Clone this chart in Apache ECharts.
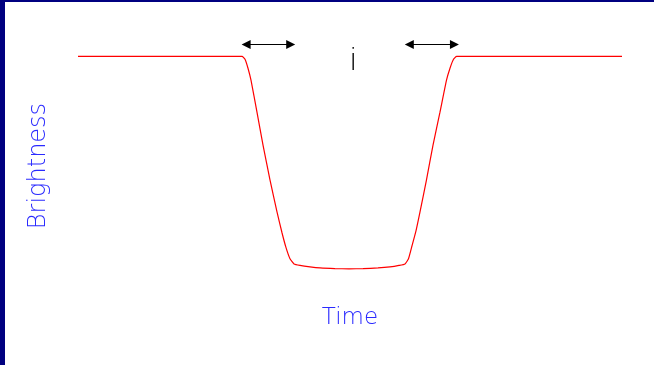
<!DOCTYPE html>
<html>
<head>
<meta charset="utf-8">
<script src="https://cdn.jsdelivr.net/npm/echarts@6/dist/echarts.min.js"></script>
<style>
  html, body { margin: 0; padding: 0; background: #fff; }
  #wrap { position: relative; width: 654px; height: 365px; overflow: hidden; }
  #chart { position: absolute; left: 0; top: 0; width: 654px; height: 365px; }
  .edge { position: absolute; background: #000080; z-index: 5; }
</style>
</head>
<body>
<div id="wrap">
  <div id="chart"></div>
  <div class="edge" style="left:0;top:0;width:5px;height:365px"></div>
  <div class="edge" style="left:0;top:0;width:654px;height:2px"></div>
</div>
<script>
// light curve (time 0-100, brightness 1 = out of transit)
const time = [0, 30.15, 30.7, 31.25, 31.8, 32.9, 34.01, 35.29, 36.58, 37.5, 38.24, 38.97, 39.71,
  40.81, 42.65, 44.49, 47.24, 49.82, 52.39, 55.15, 57.35, 59.01, 60.11,
  60.75, 61.4, 62.13, 62.87, 64.06, 65.26, 66.54, 67.74, 68.38, 69.03, 69.61, 100];
const brightness = [1, 1, 0.986, 0.944, 0.888, 0.738, 0.584, 0.421, 0.271, 0.173, 0.103, 0.051, 0.027,
  0.020, 0.013, 0.008, 0.005, 0.004, 0.005, 0.008, 0.013, 0.020, 0.027,
  0.051, 0.112, 0.182, 0.271, 0.421, 0.584, 0.738, 0.888, 0.944, 0.986, 1, 1];
// ingress / egress arrows: [start time, end time] (arrow tips sit beyond these)
const arrowSpans = [[30.9, 39.1], [60.9, 69.2]];
const arrowLevel = 1.056;

const chart = echarts.init(document.getElementById('chart'), null, { renderer: 'canvas' });

const points = time.map((t, i) => [t, brightness[i]]);
const font = '"DejaVu Sans", sans-serif';

const option = {
  animation: false,
  backgroundColor: '#fff',
  grid: { left: 78, right: 32, top: 35, bottom: 74 },
  xAxis: {
    type: 'value',
    min: 0,
    max: 100,
    name: 'Time',
    nameLocation: 'middle',
    nameGap: 16,
    nameTextStyle: { color: '#2a2aff', fontSize: 23, fontFamily: font, fontWeight: 200 },
    axisLine: { show: false },
    axisTick: { show: false },
    axisLabel: { show: false },
    splitLine: { show: false }
  },
  yAxis: {
    type: 'value',
    min: -0.1,
    max: 1.1,
    name: 'Brightness',
    nameLocation: 'middle',
    nameGap: 27,
    nameTextStyle: { color: '#2a2aff', fontSize: 24, fontFamily: font, fontWeight: 200, padding: [0, 6, 0, 0] },
    axisLine: { show: false },
    axisTick: { show: false },
    axisLabel: { show: false },
    splitLine: { show: false }
  },
  graphic: [
    {
      type: 'text',
      left: 349,
      top: 46,
      style: { text: 'i', fill: '#000', font: '200 31px ' + font }
    }
  ],
  series: [
    {
      type: 'line',
      data: points,
      showSymbol: false,
      smooth: 0.15,
      clip: false,
      lineStyle: { color: '#ff0000', width: 1.2 },
      markLine: {
        silent: true,
        symbol: ['triangle', 'triangle'],
        symbolSize: 9,
        label: { show: false },
        lineStyle: { color: '#000', width: 1, type: 'solid' },
        data: arrowSpans.map(s => [
          { coord: [s[0], arrowLevel] },
          { coord: [s[1], arrowLevel] }
        ])
      }
    }
  ]
};

chart.setOption(option);
</script>
</body>
</html>
